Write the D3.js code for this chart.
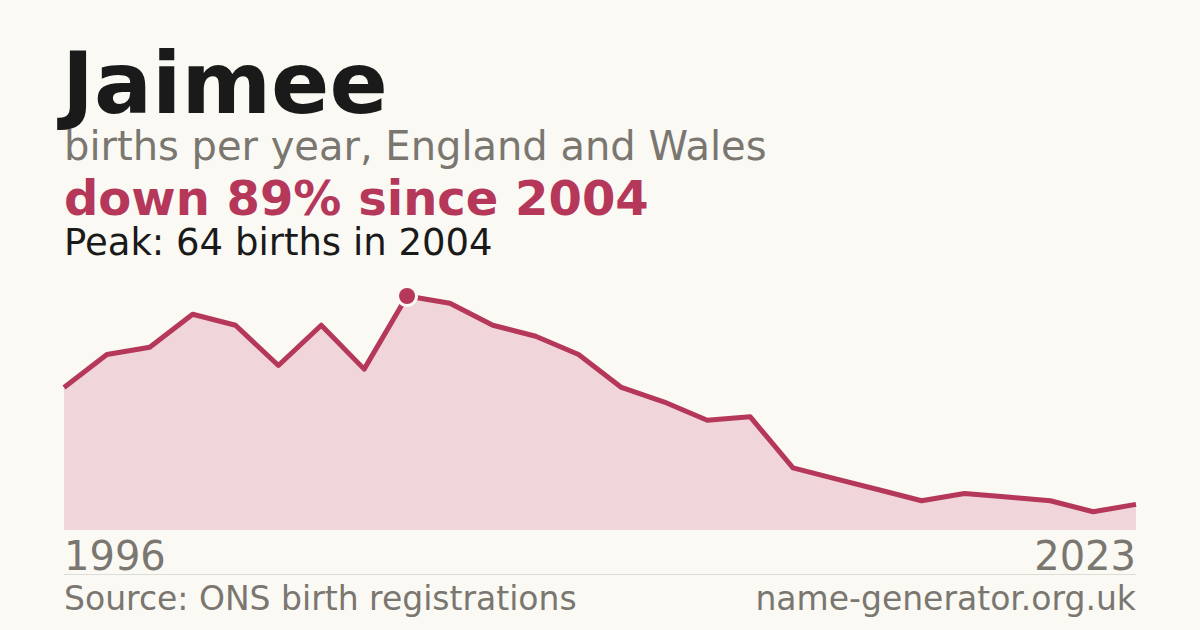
<!DOCTYPE html>
<html>
<head>
<meta charset="utf-8">
<script src="https://cdn.jsdelivr.net/npm/d3@7"></script>
<style>
  html, body { margin: 0; padding: 0; background: #faf9f4; }
  svg { display: block; font-family: "DejaVu Sans", sans-serif; }
</style>
</head>
<body>
<div id="plot"></div>
<script>
// births per year (26 registered years shown)
const years = [1996, 1997, 1998, 1999, 2000, 2001, 2002, 2003, 2004, 2005, 2006, 2007, 2008,
  2009, 2010, 2011, 2012, 2013, 2014, 2015, 2016, 2018, 2019, 2020, 2022, 2023];
const births = [39, 48, 50, 59, 56, 45, 56, 44, 64, 62, 56, 53, 48,
  39, 35, 30, 31, 17, 14, 11, 8, 10, 9, 8, 5, 7];
const tickLabels = ["1996", "2023"];

const width = 1200, height = 630;
const margin = {left: 64, right: 64, top: 296, bottom: 100};
const red = "#b5375a";

const svg = d3.select("#plot")
  .append("svg")
  .attr("width", width)
  .attr("height", height);

svg.append("rect")
  .attr("width", width)
  .attr("height", height)
  .attr("fill", "#faf9f4");

// Header text
svg.append("text")
  .attr("x", 62).attr("y", 113)
  .attr("font-size", 86).attr("font-weight", "bold")
  .attr("fill", "#1a1a1a")
  .text("Jaimee");

svg.append("text")
  .attr("x", 64).attr("y", 160)
  .attr("font-size", 40)
  .attr("fill", "#7a7670")
  .text("births per year, England and Wales");

svg.append("text")
  .attr("x", 64).attr("y", 215)
  .attr("font-size", 48).attr("font-weight", "bold")
  .attr("fill", red)
  .text("down 89% since 2004");

svg.append("text")
  .attr("x", 64).attr("y", 255)
  .attr("font-size", 37)
  .attr("fill", "#1a1a1a")
  .text("Peak: 64 births in 2004");

// Scales
var x = d3.scalePoint()
  .domain(years)
  .range([margin.left, width - margin.right]);

var y = d3.scaleLinear()
  .domain([0, d3.max(births)])
  .range([530, margin.top]);

const data = years.map((yr, i) => ({year: yr, value: births[i]}));

// Area
svg.append("path")
  .datum(data)
  .attr("fill", "#f0d5da")
  .attr("d", d3.area()
    .x(d => x(d.year))
    .y0(y(0))
    .y1(d => y(d.value)));

// Line
svg.append("path")
  .datum(data)
  .attr("fill", "none")
  .attr("stroke", red)
  .attr("stroke-width", 5)
  .attr("stroke-linejoin", "round")
  .attr("d", d3.line()
    .x(d => x(d.year))
    .y(d => y(d.value)));

// Peak marker
const peak = data.reduce((a, b) => (b.value > a.value ? b : a));
svg.append("circle")
  .attr("cx", x(peak.year)).attr("cy", y(peak.value))
  .attr("r", 11)
  .attr("fill", "#faf9f4");
svg.append("circle")
  .attr("cx", x(peak.year)).attr("cy", y(peak.value))
  .attr("r", 8)
  .attr("fill", red);

// Year labels
svg.append("text")
  .attr("x", x(years[0])).attr("y", 570)
  .attr("font-size", 40)
  .attr("fill", "#7a7670")
  .text(tickLabels[0]);

svg.append("text")
  .attr("x", x(years[years.length - 1])).attr("y", 570)
  .attr("text-anchor", "end")
  .attr("font-size", 40)
  .attr("fill", "#7a7670")
  .text(tickLabels[1]);

// Footer
svg.append("line")
  .attr("x1", 64).attr("x2", 1136)
  .attr("y1", 574.5).attr("y2", 574.5)
  .attr("stroke", "#deddd8")
  .attr("stroke-width", 1);

svg.append("text")
  .attr("x", 64).attr("y", 610)
  .attr("font-size", 33)
  .attr("fill", "#7a7670")
  .text("Source: ONS birth registrations");

svg.append("text")
  .attr("x", 1136).attr("y", 610)
  .attr("text-anchor", "end")
  .attr("font-size", 33)
  .attr("fill", "#7a7670")
  .text("name-generator.org.uk");
</script>
</body>
</html>
